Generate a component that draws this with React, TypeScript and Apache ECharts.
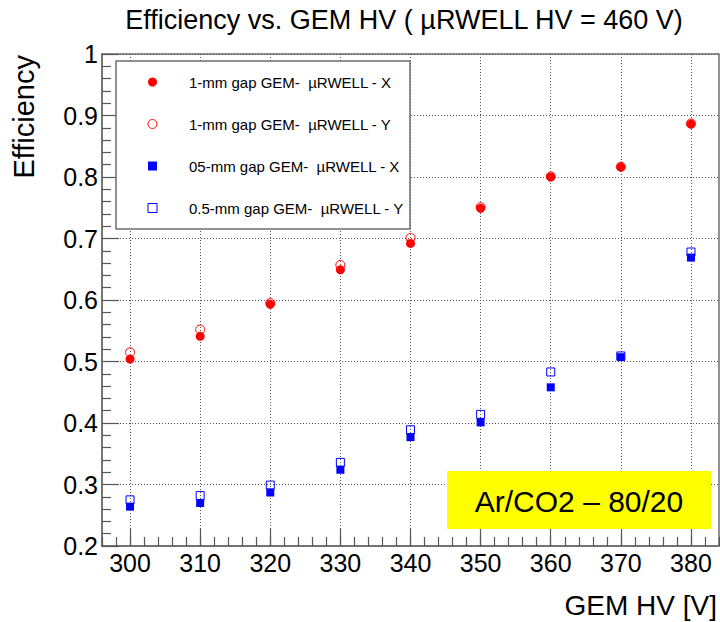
import React, { useEffect, useRef } from "react";
import * as echarts from "echarts";

const FONT = "'Liberation Sans', Arial, Helvetica, sans-serif";

const titleText = "Efficiency vs. GEM HV ( \u00b5RWELL HV = 460 V)";
const xAxisTitle = "GEM HV [V]";
const yAxisTitle = "Efficiency";
const gasLabel = "Ar/CO2 \u2013 80/20";

const gemHV = [300, 310, 320, 330, 340, 350, 360, 370, 380];
const eff1mmX = [0.504, 0.541, 0.593, 0.649, 0.692, 0.749, 0.8, 0.816, 0.886];
const eff1mmY = [0.515, 0.552, 0.595, 0.657, 0.701, 0.751, 0.801, 0.817, 0.887];
const eff05mmX = [0.264, 0.27, 0.287, 0.324, 0.377, 0.401, 0.458, 0.507, 0.669];
const eff05mmY = [0.275, 0.282, 0.299, 0.336, 0.389, 0.414, 0.483, 0.509, 0.678];

const seriesNames = [
  "1-mm gap GEM-  \u00b5RWELL - X",
  "1-mm gap GEM-  \u00b5RWELL - Y",
  "05-mm gap GEM-  \u00b5RWELL - X",
  "0.5-mm gap GEM-  \u00b5RWELL - Y",
];

const xMin = 296;
const xMax = 384;
const yMin = 0.2;
const yMax = 1.0;

const RED = "#ff0000";
const BLUE = "#0000ff";
const FRAME = "#6e6e6e";
const TICK = "#555555";
const GRIDC = "#555555";

export default function App() {
  const ref = useRef<HTMLDivElement>(null);

  useEffect(() => {
    if (!ref.current) return;
    const chart = echarts.init(ref.current, undefined, { renderer: "svg" });

    const pts = (ys: number[]) => gemHV.map((x, i) => [x, ys[i]]);

    const option: any = {
      animation: false,
      backgroundColor: "#ffffff",
      textStyle: { fontFamily: FONT },
      grid: {
        left: 102,
        right: 1,
        top: 54,
        bottom: 76,
        show: true,
        borderColor: FRAME,
        borderWidth: 1.5,
        backgroundColor: "transparent",
      },
      xAxis: [
        {
          type: "value",
          min: xMin,
          max: xMax,
          interval: 2,
          position: "bottom",
          axisLine: { show: true, lineStyle: { color: FRAME, width: 1.5 } },
          axisTick: { show: true, inside: true, length: 9, lineStyle: { color: TICK, width: 1.2 } },
          axisLabel: { show: false },
          splitLine: { show: false },
        },
        {
          type: "value",
          min: xMin,
          max: xMax,
          position: "bottom",
          axisLine: { show: false },
          axisTick: {
            show: true,
            inside: true,
            length: 17,
            customValues: gemHV,
            lineStyle: { color: TICK, width: 1.2 },
          },
          axisLabel: {
            show: true,
            customValues: gemHV,
            fontSize: 25,
            margin: 4,
            color: "#000",
            fontFamily: FONT,
          },
          splitLine: {
            show: true,
            lineStyle: { type: [1, 2], color: GRIDC, width: 1 },
          },
        },
      ],
      yAxis: {
        type: "value",
        min: yMin,
        max: yMax,
        interval: 0.1,
        axisLine: { show: true, lineStyle: { color: FRAME, width: 1.5 } },
        axisTick: { show: true, inside: true, length: 17, lineStyle: { color: TICK, width: 1.2 } },
        minorTick: { show: true, splitNumber: 5, length: 9, lineStyle: { color: TICK, width: 1.2 } },
        axisLabel: {
          fontSize: 25,
          margin: 4,
          color: "#000",
          fontFamily: FONT,
          formatter: (v: number) => String(Math.round(v * 10) / 10),
        },
        splitLine: { show: true, lineStyle: { type: [1, 2], color: GRIDC, width: 1 } },
      },
      legend: {
        orient: "vertical",
        left: 147.5,
        top: 72,
        padding: 0,
        itemWidth: 9,
        itemHeight: 9,
        itemGap: 22,
        selectedMode: false,
        z: 10,
        textStyle: {
          fontSize: 15,
          color: "#000",
          fontFamily: FONT,
          lineHeight: 20,
          padding: [0, 0, 0, 27],
        },
        data: [
          { name: seriesNames[0], icon: "circle", itemStyle: { color: RED, borderWidth: 0 } },
          {
            name: seriesNames[1],
            icon: "circle",
            itemStyle: { color: "rgba(255,255,255,0)", borderColor: RED, borderWidth: 1 },
          },
          { name: seriesNames[2], icon: "rect", itemStyle: { color: BLUE, borderWidth: 0 } },
          {
            name: seriesNames[3],
            icon: "rect",
            itemStyle: { color: "rgba(255,255,255,0)", borderColor: BLUE, borderWidth: 1 },
          },
        ],
      },
      series: [
        {
          type: "scatter",
          name: seriesNames[0],
          xAxisIndex: 0,
          data: pts(eff1mmX),
          symbol: "circle",
          symbolSize: 9,
          itemStyle: { color: RED, opacity: 1 },
          z: 3,
        },
        {
          type: "scatter",
          name: seriesNames[1],
          xAxisIndex: 0,
          data: pts(eff1mmY),
          symbol: "circle",
          symbolSize: 9,
          itemStyle: { color: "rgba(255,255,255,0)", borderColor: RED, borderWidth: 1, opacity: 1 },
          z: 4,
        },
        {
          type: "scatter",
          name: seriesNames[2],
          xAxisIndex: 0,
          data: pts(eff05mmX),
          symbol: "rect",
          symbolSize: 8,
          itemStyle: { color: BLUE, opacity: 1 },
          z: 3,
        },
        {
          type: "scatter",
          name: seriesNames[3],
          xAxisIndex: 0,
          data: pts(eff05mmY),
          symbol: "rect",
          symbolSize: 8,
          itemStyle: { color: "rgba(255,255,255,0)", borderColor: BLUE, borderWidth: 1, opacity: 1 },
          z: 4,
        },
      ],
      graphic: [
        {
          type: "text",
          x: 404,
          y: 20,
          style: {
            text: titleText,
            font: `27px ${FONT}`,
            fill: "#000",
            textAlign: "center",
            textVerticalAlign: "middle",
          },
        },
        {
          type: "text",
          x: 24,
          y: 55,
          rotation: Math.PI / 2,
          style: {
            text: yAxisTitle,
            font: `29px ${FONT}`,
            fill: "#000",
            textAlign: "right",
            textVerticalAlign: "middle",
          },
        },
        {
          type: "text",
          x: 717,
          y: 605,
          style: {
            text: xAxisTitle,
            font: `28px ${FONT}`,
            fill: "#000",
            textAlign: "right",
            textVerticalAlign: "middle",
          },
        },
        {
          type: "rect",
          z: 5,
          shape: { x: 116, y: 61, width: 294, height: 168 },
          style: { fill: "#ffffff", stroke: FRAME, lineWidth: 1.5 },
        },
        {
          type: "rect",
          z: 5,
          shape: { x: 447, y: 471, width: 264, height: 58 },
          style: { fill: "#ffff00" },
        },
        {
          type: "text",
          z: 6,
          x: 579,
          y: 501,
          style: {
            text: gasLabel,
            font: `30px ${FONT}`,
            fill: "#000",
            textAlign: "center",
            textVerticalAlign: "middle",
          },
        },
      ],
    };

    chart.setOption(option);
    return () => chart.dispose();
  }, []);

  return (
    <div
      ref={ref}
      style={{ position: "absolute", left: 0, top: 0, width: 720, height: 622, background: "#fff" }}
    />
  );
}
